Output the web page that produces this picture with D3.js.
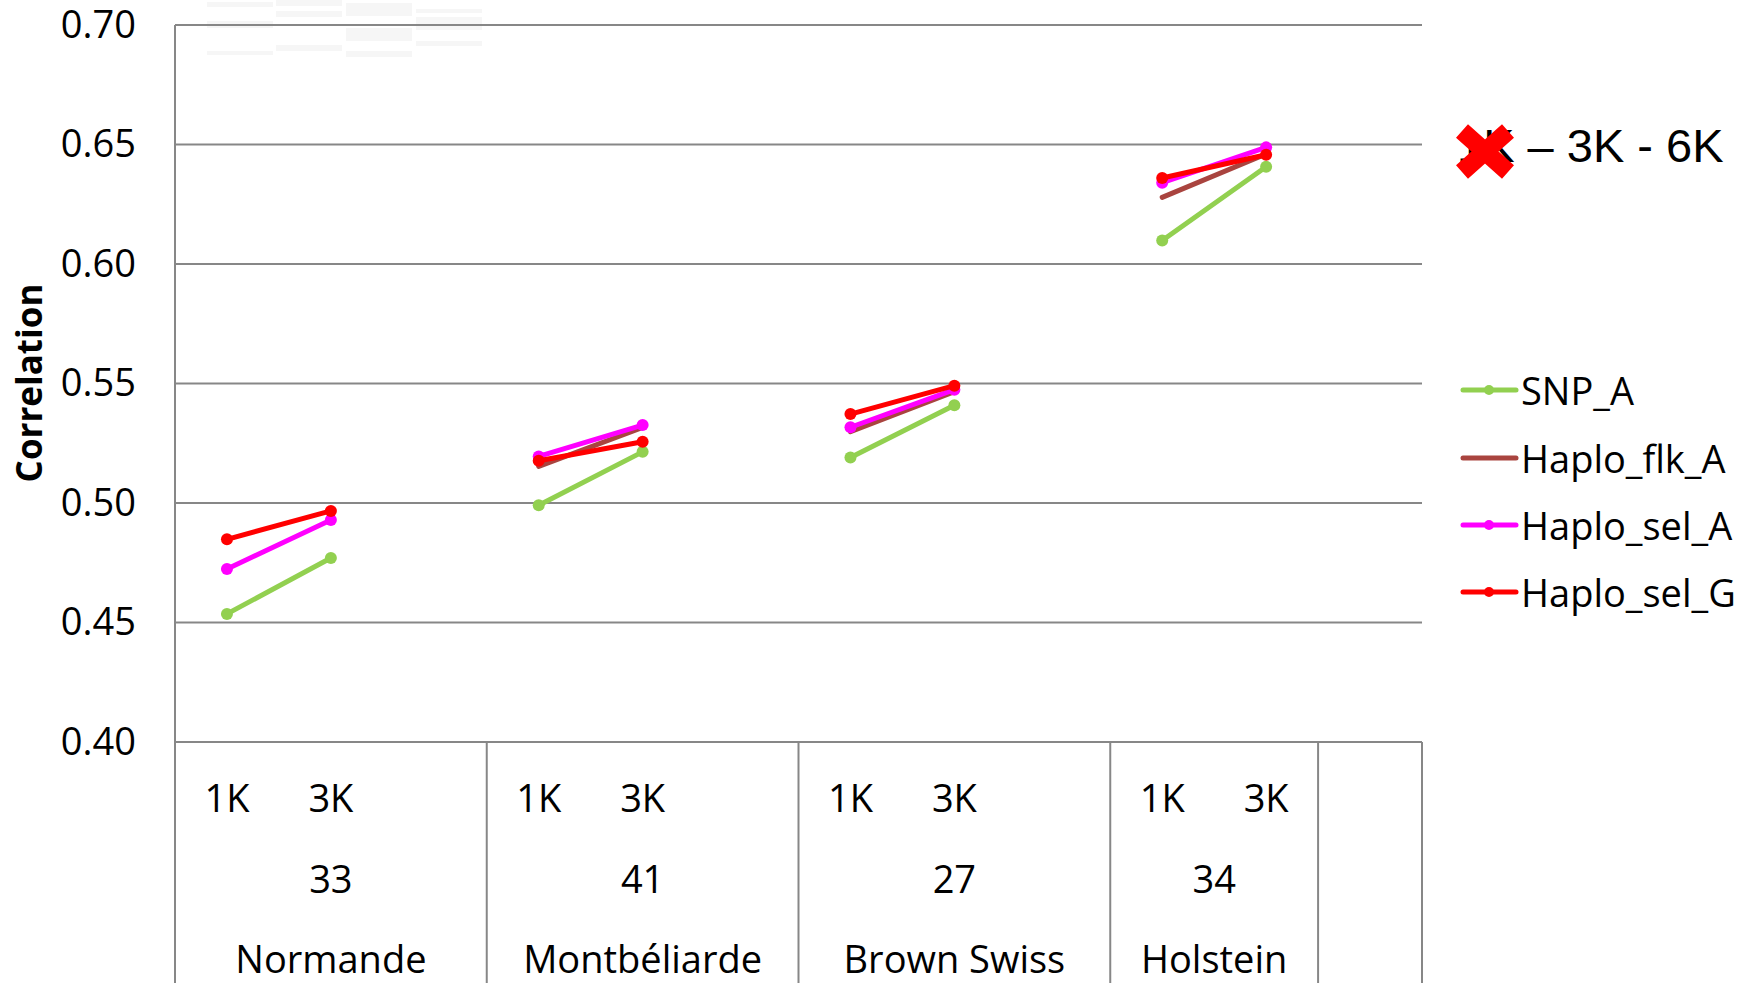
<!DOCTYPE html>
<html>
<head>
<meta charset="utf-8">
<script src="https://cdn.jsdelivr.net/npm/d3@7"></script>
<style>
  html, body { margin: 0; padding: 0; background: #fff; }
  svg { display: block; }
  text { font-family: "Open Sans", "Noto Sans", sans-serif; fill: #000; }
</style>
</head>
<body>
<svg id="chart" width="1743" height="983"></svg>
<script>
// Category structure of the x axis: breeds, number of SNPs and panel sizes
const breeds = ["Normande", "Montbéliarde", "Brown Swiss", "Holstein", ""];
const snpCounts = ["33", "41", "27", "34", ""];
const groupPanels = [["1K", "3K", "6K"], ["1K", "3K", "6K"], ["1K", "3K", "6K"], ["1K", "3K"], ["6K"]];
const shownPanels = ["1K", "3K"];
const panelBreeds = ["Normande", "Montbéliarde", "Brown Swiss", "Holstein"];

// Correlations per breed, [1K, 3K]
const seriesNames = ["SNP_A", "Haplo_flk_A", "Haplo_sel_A", "Haplo_sel_G"];
const SNP_A       = [[0.4536, 0.4770], [0.4991, 0.5214], [0.5190, 0.5409], [0.6098, 0.6407]];
const Haplo_flk_A = [[null, null],     [0.5153, 0.5316], [0.5298, 0.5466], [0.6279, 0.6460]];
const Haplo_sel_A = [[0.4724, 0.4929], [0.5195, 0.5326], [0.5317, 0.5474], [0.6340, 0.6488]];
const Haplo_sel_G = [[0.4848, 0.4967], [0.5177, 0.5256], [0.5372, 0.5491], [0.6360, 0.6457]];
const seriesColors = ["#92D050", "#A9443F", "#FF00FF", "#FF0000"];
const seriesMarkers = [true, false, true, true];

const yTicks = [0.40, 0.45, 0.50, 0.55, 0.60, 0.65, 0.70];
const yTitle = "Correlation";
const panelNote = "1K – 3K - 6K";

const svg = d3.select("#chart");
const W = 1743, H = 983;
const plot = { left: 175, right: 1422, top: 25, bottom: 742 };
const gridColor = "#878787";

// One slot per (group, panel)
const slots = [];
groupPanels.forEach((panels, g) => panels.forEach(p => slots.push({ id: g + "|" + p, g, p })));

const x = d3.scaleBand().domain(slots.map(s => s.id)).range([plot.left, plot.right]).paddingInner(0).paddingOuter(0);
const y = d3.scaleLinear().domain([0.40, 0.70]).range([plot.bottom, plot.top]);

// faint strip at top-left
const ghost = svg.append("g").attr("fill", "#f6f6f6");
[[207, 2, 66, 5], [207, 21, 66, 7], [207, 51, 66, 4], [276, 0, 66, 6], [276, 11, 66, 6], [276, 45, 66, 6],
 [346, 3, 66, 13], [346, 28, 66, 13], [346, 51, 66, 6], [416, 9, 66, 4], [416, 17, 66, 13], [416, 41, 66, 5]]
  .forEach(r => ghost.append("rect").attr("x", r[0]).attr("y", r[1]).attr("width", r[2]).attr("height", r[3]));

// horizontal gridlines
svg.append("g").selectAll("line").data(yTicks).join("line")
  .attr("x1", plot.left).attr("x2", plot.right)
  .attr("y1", d => y(d)).attr("y2", d => y(d))
  .attr("stroke", gridColor).attr("stroke-width", 2);

// y axis labels
const yAxis = svg.append("g").attr("transform", `translate(${plot.left},0)`)
  .call(d3.axisLeft(y).tickValues(yTicks).tickFormat(d3.format(".2f")).tickSize(0).tickPadding(39));
yAxis.select(".domain").remove();
yAxis.selectAll("text").attr("font-size", 38).style("font-family", "'Open Sans', sans-serif").attr("fill", "#000");

// vertical axis line
svg.append("line").attr("x1", plot.left).attr("x2", plot.left).attr("y1", plot.top).attr("y2", H)
  .attr("stroke", gridColor).attr("stroke-width", 2);

// group dividers on the category axis
let acc = 0;
const groupBounds = groupPanels.map(p => { const s = acc; acc += p.length; return [s, acc - 1]; });
const groupEdges = groupBounds.map(([s, e]) => x(slots[e].id) + x.bandwidth());
svg.append("g").selectAll("line").data(groupEdges).join("line")
  .attr("x1", d => d).attr("x2", d => d).attr("y1", plot.bottom).attr("y2", H)
  .attr("stroke", gridColor).attr("stroke-width", 2);

// panel labels
svg.append("g").selectAll("text").data(slots.filter(s => shownPanels.includes(s.p))).join("text")
  .attr("x", s => x(s.id) + x.bandwidth() / 2).attr("y", 797)
  .attr("text-anchor", "middle").attr("dominant-baseline", "central")
  .attr("font-size", 38).text(s => s.p);

// SNP counts and breed names, centred under each group
const groupCenters = groupBounds.map(([s, e]) => (x(slots[s].id) + x(slots[e].id) + x.bandwidth()) / 2);
svg.append("g").selectAll("text").data(snpCounts).join("text")
  .attr("x", (d, i) => groupCenters[i]).attr("y", 878)
  .attr("text-anchor", "middle").attr("dominant-baseline", "central")
  .attr("font-size", 38).text(d => d);
svg.append("g").selectAll("text").data(breeds).join("text")
  .attr("x", (d, i) => groupCenters[i]).attr("y", 958)
  .attr("text-anchor", "middle").attr("dominant-baseline", "central")
  .attr("font-size", 38).text(d => d);

// y axis title
svg.append("text").attr("transform", "translate(28,383) rotate(-90)")
  .attr("text-anchor", "middle").attr("dominant-baseline", "central")
  .attr("font-size", 35).attr("font-weight", "bold").text(yTitle);

// series lines: one segment per breed from 1K to 3K
const allSeries = [SNP_A, Haplo_flk_A, Haplo_sel_A, Haplo_sel_G];
const line = d3.line().defined(d => d.v != null).x(d => d.x).y(d => y(d.v));
allSeries.forEach((vals, si) => {
  const g = svg.append("g");
  vals.forEach((pair, bi) => {
    const gi = breeds.indexOf(panelBreeds[bi]);
    const pts = shownPanels.map((p, k) => ({ x: x(gi + "|" + p) + x.bandwidth() / 2, v: pair[k] }));
    g.append("path").datum(pts).attr("d", line)
      .attr("fill", "none").attr("stroke", seriesColors[si]).attr("stroke-width", 5)
      .attr("stroke-linecap", "round");
    if (seriesMarkers[si]) {
      g.selectAll(null).data(pts.filter(d => d.v != null)).join("circle")
        .attr("cx", d => d.x).attr("cy", d => y(d.v)).attr("r", 6)
        .attr("fill", seriesColors[si]);
    }
  });
});

// legend
const legend = svg.append("g");
const legendRows = [390, 458, 525, 592];
seriesNames.forEach((name, i) => {
  const ly = legendRows[i];
  legend.append("line").attr("x1", 1463).attr("x2", 1516).attr("y1", ly).attr("y2", ly)
    .attr("stroke", seriesColors[i]).attr("stroke-width", 5).attr("stroke-linecap", "round");
  if (seriesMarkers[i]) legend.append("circle").attr("cx", 1489).attr("cy", ly).attr("r", 5).attr("fill", seriesColors[i]);
  legend.append("text").attr("x", 1521).attr("y", ly).attr("dominant-baseline", "central")
    .attr("font-size", 38).text(name);
});

// panel note with a red cross over the first size
svg.append("text").attr("x", 1457).attr("y", 162)
  .style("font-family", "'Liberation Sans', Arial, sans-serif").attr("font-size", 47).text(panelNote);
svg.append("path")
  .attr("d", "M1462,131 L1508,172 M1508,131 L1462,172")
  .attr("stroke", "#FF0000").attr("stroke-width", 18).attr("fill", "none");
</script>
</body>
</html>
